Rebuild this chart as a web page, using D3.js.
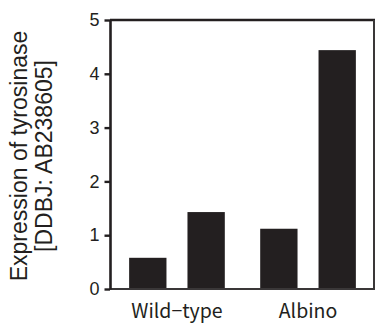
<!DOCTYPE html>
<html>
<head>
<meta charset="utf-8">
<script src="https://cdn.jsdelivr.net/npm/d3@7"></script>
<style>
    body { margin: 0; background: #fff; }
    svg { display: block; }
</style>
</head>
<body>
<svg id="chart" width="377" height="325"></svg>
<script>
const groups = ["Wild−type", "Albino"];
const subgroups = ["a", "b"];
const wildType = [0.58, 1.43];
const albino = [1.12, 4.44];
const yTicks = [0, 1, 2, 3, 4, 5];
const yLabel = ["Expression of tyrosinase", "[DDBJ: AB238605]"];

const ink = "#231f20";
const svg = d3.select("#chart");

const plotLeft = 110, plotRight = 375, plotTop = 20, plotBottom = 289;

const x0 = d3.scaleBand()
    .domain(groups)
    .range([plotLeft, plotRight])
    .paddingInner(0.27)
    .paddingOuter(0.146);

const x1 = d3.scaleBand()
    .domain(subgroups)
    .range([0, x0.bandwidth()])
    .paddingInner(0.36);

const y = d3.scaleLinear().domain([0, 5]).range([plotBottom, plotTop]);

const rows = [wildType, albino].map((vals, i) => ({group: groups[i], vals: vals}));

// bars
svg.append("g").selectAll("g")
    .data(rows)
    .enter().append("g")
    .attr("transform", d => `translate(${x0(d.group)},0)`)
    .selectAll("rect")
    .data(d => d.vals.map((v, j) => ({key: subgroups[j], value: v})))
    .enter().append("rect")
    .attr("x", d => x1(d.key))
    .attr("width", x1.bandwidth())
    .attr("y", d => y(d.value))
    .attr("height", d => y(0) - y(d.value))
    .attr("fill", ink);

// frame: top, right, bottom
svg.append("line")
    .attr("x1", plotLeft).attr("x2", plotRight)
    .attr("y1", plotTop).attr("y2", plotTop)
    .attr("stroke", ink).attr("stroke-width", 2.6);
svg.append("line")
    .attr("x1", plotRight - 1).attr("x2", plotRight - 1)
    .attr("y1", plotTop).attr("y2", plotBottom)
    .attr("stroke", "#3a3738").attr("stroke-width", 2);
svg.append("line")
    .attr("x1", plotLeft).attr("x2", plotRight)
    .attr("y1", plotBottom).attr("y2", plotBottom)
    .attr("stroke", "#3a3738").attr("stroke-width", 1.8);

// y axis
const yAxis = svg.append("g")
    .attr("transform", `translate(${plotLeft},0)`)
    .call(d3.axisLeft(y).tickValues(yTicks).tickFormat(d3.format("d"))
        .tickSize(5.5).tickPadding(5).tickSizeOuter(0));

yAxis.select(".domain").attr("stroke", ink).attr("stroke-width", 2.6);
yAxis.selectAll(".tick line").attr("stroke", ink).attr("stroke-width", 2.4);
yAxis.selectAll(".tick text")
    .attr("fill", ink)
    .style("font-family", "'Liberation Sans', Arial, sans-serif")
    .style("font-size", "18px");

// group labels
svg.append("g").selectAll("text")
    .data(groups)
    .enter().append("text")
    .attr("x", d => x0(d) + x0.bandwidth() / 2)
    .attr("y", 318)
    .attr("text-anchor", "middle")
    .attr("fill", ink)
    .style("font-family", "'Noto Sans CJK JP', sans-serif")
    .style("font-size", "19.5px")
    .text(d => d);

// y label
svg.append("g")
    .attr("transform", "translate(27,156) rotate(-90)")
    .selectAll("text")
    .data(yLabel)
    .enter().append("text")
    .attr("x", 0)
    .attr("y", (d, i) => i * 25)
    .attr("text-anchor", "middle")
    .attr("fill", ink)
    .style("font-family", "'Liberation Sans', Arial, sans-serif")
    .style("font-size", "23px")
    .text(d => d);
</script>
</body>
</html>
